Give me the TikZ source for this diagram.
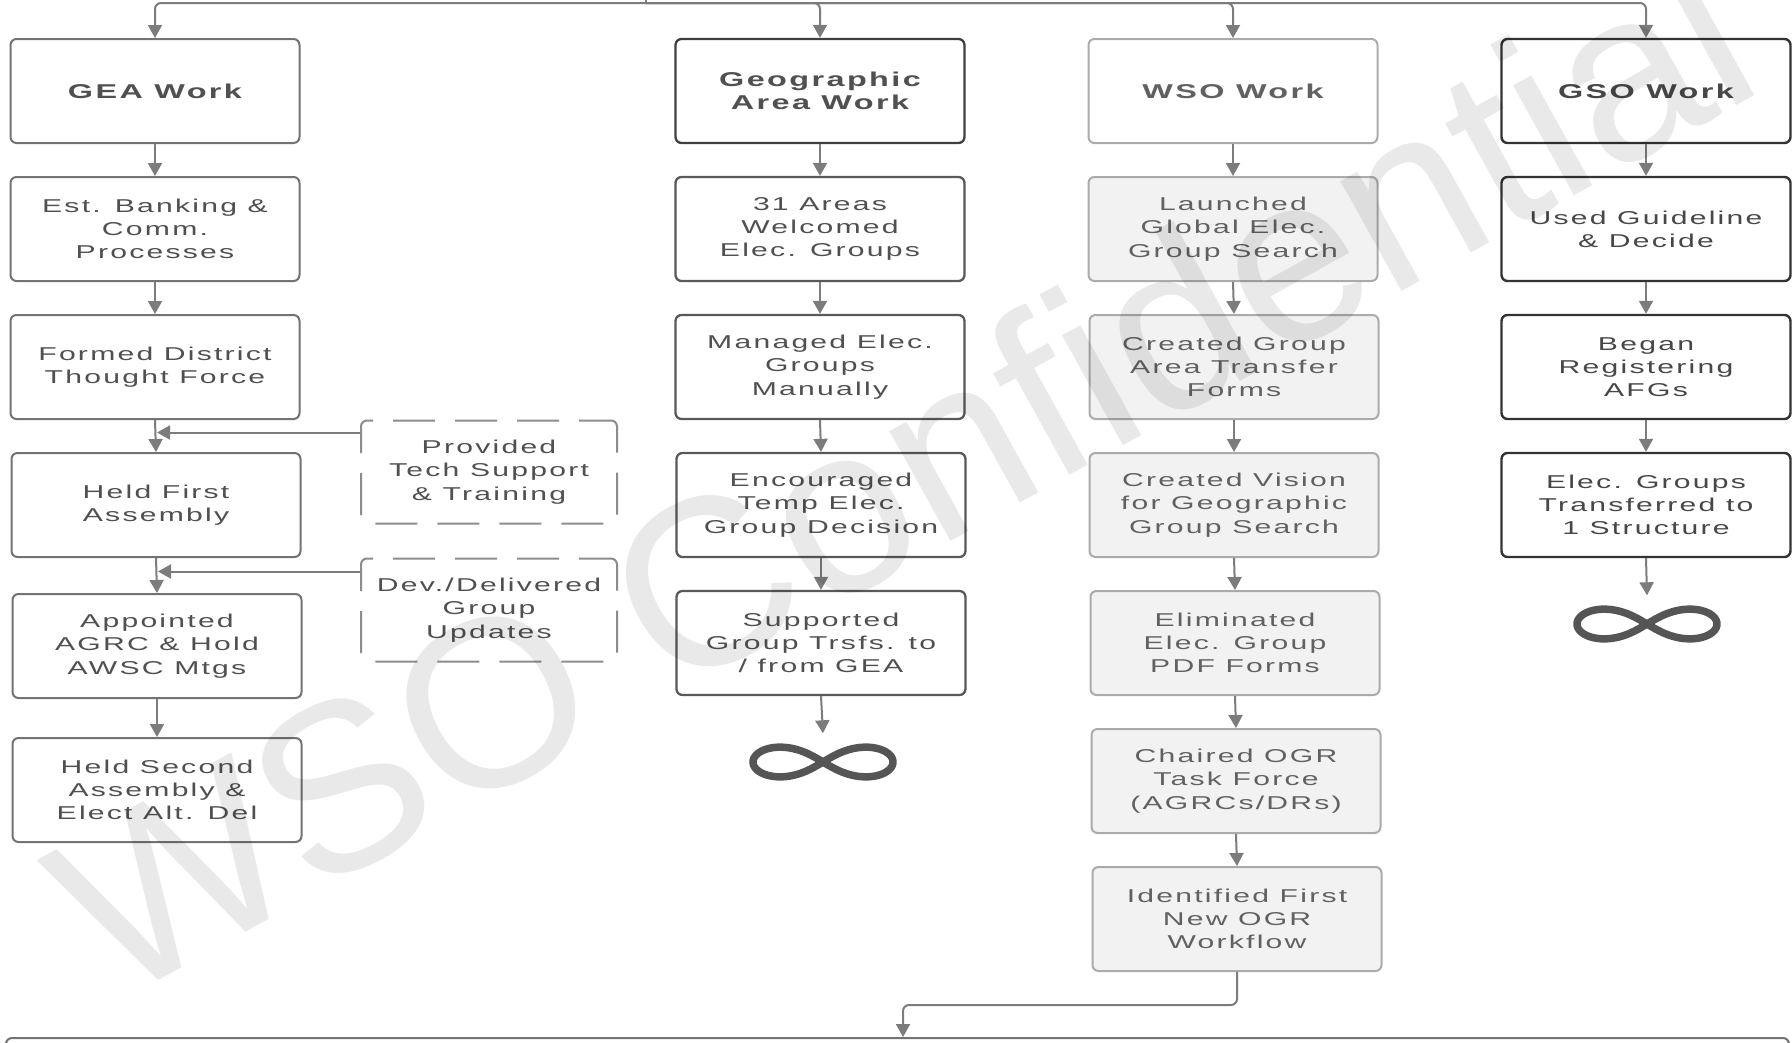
\documentclass[tikz,border=0pt]{standalone}
\usepackage{fontspec}
\usetikzlibrary{arrows.meta,calc}
\newfontfamily\boxfont[FakeStretch=1.62,LetterSpace=12]{Liberation Sans}
\newfontfamily\wmfont{Liberation Sans}
\definecolor{linegray}{HTML}{7C7C7C}
\definecolor{txtgray}{HTML}{505050}
\definecolor{infgray}{HTML}{555555}
\begin{document}
\begin{tikzpicture}[x=1pt,y=-1pt,
  base/.style={rectangle, rounded corners=6pt, line width=2pt, minimum width=289pt,
    minimum height=104pt, align=center, inner sep=0pt, text=txtgray,
    font=\boxfont\fontsize{18.6}{23.3}\selectfont},
  ttl/.style={font=\boxfont\bfseries\fontsize{20}{23.3}\selectfont},
  cA/.style={base, draw=black!55, fill=white},
  cB/.style={base, draw=black!65, fill=white, line width=2.3pt},
  cBt/.style={cB, draw=black!75, ttl},
  cC/.style={base, draw=black!33, fill=black!5, text=black!62},
  cCt/.style={base, draw=black!33, fill=white, text=black!62, ttl},
  cD/.style={base, draw=black!80, fill=white, line width=2.4pt, text=black!72},
  cDt/.style={cD, ttl},
  dsh/.style={base, minimum width=256pt, minimum height=103pt, draw=black!45,
    fill=white, dash pattern=on 42pt off 20pt, dash phase=10pt},
  ln/.style={draw=linegray, line width=2pt},
  conn/.style={ln, -{Triangle[length=13pt,width=14pt]}},
  infn/.style={rectangle, minimum width=147pt, minimum height=57pt, inner sep=0pt},
  infpic/.pic={\draw[line width=7.5pt, color=infgray, line join=round]
    plot[domain=0:357.5, samples=144, variable=\t]
    ({70*cos(\t)/(1+sin(\t)*sin(\t))}, {42*sin(\t)*cos(\t)/(1+sin(\t)*sin(\t))}) -- cycle;}
]
\useasboundingbox (0,0) rectangle (1792,1042);
\clip (0,0) rectangle (1792,1042);
\fill[white] (0,0) rectangle (1792,1042);

% column 1
\node[cA, ttl] (a1) at (155,91) {GEA Work};
\node[cA] (a2) at (155,229) {Est. Banking \&\\Comm.\\Processes};
\node[cA] (a3) at (155,367) {Formed District\\Thought Force};
\node[cA] (a4) at (156,505) {Held First\\Assembly};
\node[cA] (a5) at (157,646) {Appointed\\AGRC \& Hold\\AWSC Mtgs};
\node[cA] (a6) at (157,790) {Held Second\\Assembly \&\\Elect Alt. Del};
\node[dsh] (d1) at (489,472) {Provided\\Tech Support\\\& Training};
\node[dsh] (d2) at (489,610) {Dev./Delivered\\Group\\Updates};

% column 2
\node[cBt] (b1) at (820,91) {Geographic\\Area Work};
\node[cB] (b2) at (820,229) {31 Areas\\Welcomed\\Elec. Groups};
\node[cB] (b3) at (820,367) {Managed Elec.\\Groups\\Manually};
\node[cB] (b4) at (821,505) {Encouraged\\Temp Elec.\\Group Decision};
\node[cB] (b5) at (821,643) {Supported\\Group Trsfs. to\\/ from GEA};
\node[infn] (binf) at (823,762) {};
\pic at (binf.center) {infpic};

% column 3
\node[cCt] (c1) at (1233,91) {WSO Work};
\node[cC] (c2) at (1233,229) {Launched\\Global Elec.\\Group Search};
\node[cC] (c3) at (1234,367) {Created Group\\Area Transfer\\Forms};
\node[cC] (c4) at (1234,505) {Created Vision\\for Geographic\\Group Search};
\node[cC] (c5) at (1235,643) {Eliminated\\Elec. Group\\PDF Forms};
\node[cC] (c6) at (1236,781) {Chaired OGR\\Task Force\\(AGRCs/DRs)};
\node[cC] (c7) at (1237,919) {Identified First\\New OGR\\Workflow};

% column 4
\node[cDt] (e1) at (1646,91) {GSO Work};
\node[cD] (e2) at (1646,229) {Used Guideline\\\& Decide};
\node[cD] (e3) at (1646,367) {Began\\Registering\\AFGs};
\node[cD] (e4) at (1646,505) {Elec. Groups\\Transferred to\\1 Structure};
\node[infn] (einf) at (1647,624) {};
\pic at (einf.center) {infpic};

% bottom box
\node[rectangle, rounded corners=6pt, draw=black!55, line width=2pt, fill=white,
  minimum width=1783pt, minimum height=90pt, anchor=north] (bot) at (897.5,1037) {};

% top fan-out
\coordinate (src) at (646,-30);
\coordinate (topj) at (646,3);
\draw[ln] (src) -- (topj);
\draw[conn, rounded corners=6pt] (topj) -| (a1.north);
\draw[conn, rounded corners=6pt] (topj) -| (b1.north);
\draw[conn, rounded corners=6pt] (topj) -| (c1.north);
\draw[conn, rounded corners=6pt] (topj) -| (e1.north);

% vertical chains
\foreach \p/\q in {a1/a2,a2/a3,a3/a4,a4/a5,a5/a6,b1/b2,b2/b3,b3/b4,b4/b5,b5/binf,
  c1/c2,c2/c3,c3/c4,c4/c5,c5/c6,c6/c7,e1/e2,e2/e3,e3/e4,e4/einf}
  \draw[conn] (\p.south) -- (\q.north);

% side inputs
\coordinate (s1) at ([yshift=-13pt]d1.north west);
\coordinate (s2) at ([yshift=-14pt]d2.north west);
\draw[conn] (s1) -- ([xshift=2pt]s1 -| a3.south);
\draw[conn] (s2) -- ([xshift=2pt]s2 -| a4.south);

% bottom connector
\coordinate (elbow) at (903,1005);
\draw[conn, rounded corners=6pt] (c7.south) |- (elbow) -- (bot.north -| elbow);

% watermark
\node[rotate=29, text=black, text opacity=0.085, inner sep=0pt,
  font=\wmfont\fontsize{238}{238}\selectfont] (wm) at (901,472) {WSO Confidential};
\end{tikzpicture}
\end{document}
